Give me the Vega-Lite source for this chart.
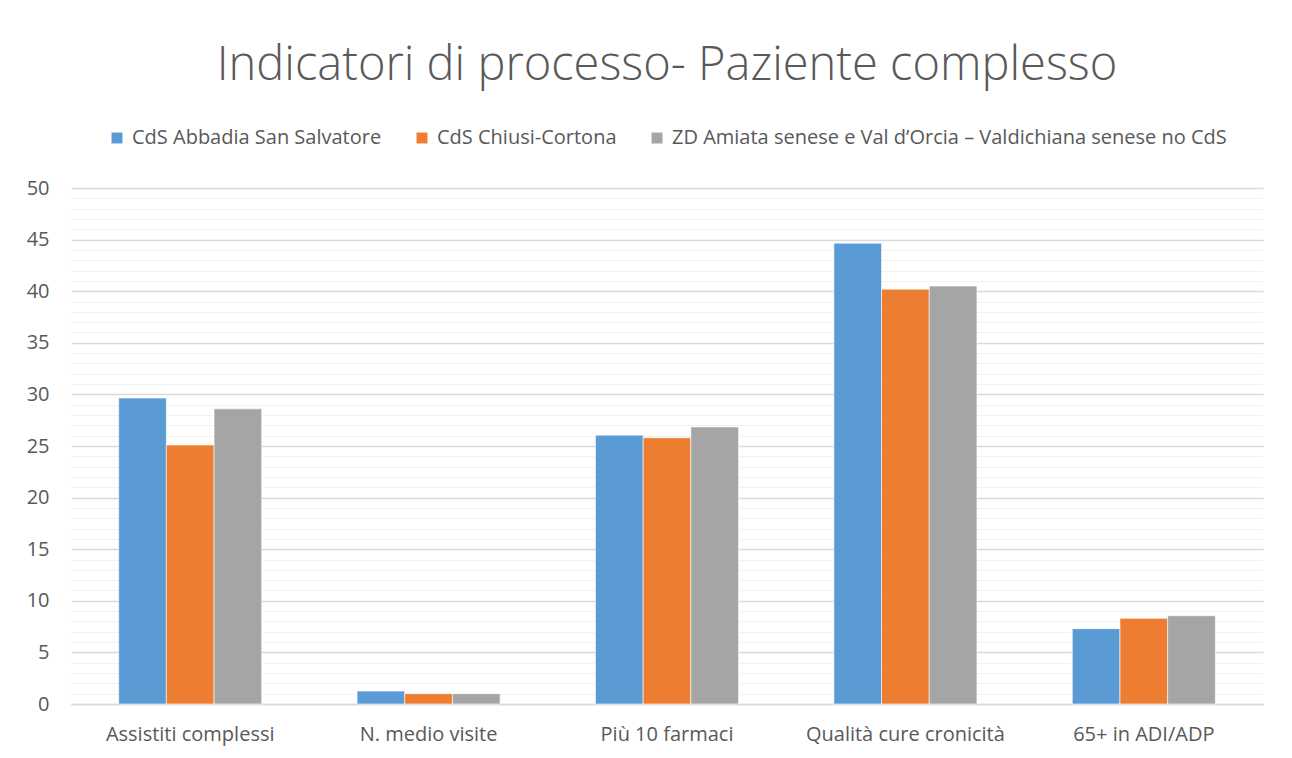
{
  "$schema": "https://vega.github.io/schema/vega-lite/v6.json",
  "width": 1192,
  "height": 516,
  "padding": {"left": 26, "right": 30, "top": 42, "bottom": 10},
  "background": "white",
  "title": {
    "text": "Indicatori di processo- Paziente complesso",
    "font": "Open Sans",
    "fontSize": 47,
    "fontWeight": 300,
    "color": "#595959",
    "anchor": "middle",
    "offset": 38
  },
  "data": {
    "values": [
      {"categoria": "Assistiti complessi", "serie": "CdS Abbadia San Salvatore", "valore": 29.65},
      {"categoria": "Assistiti complessi", "serie": "CdS Chiusi-Cortona", "valore": 25.1},
      {"categoria": "Assistiti complessi", "serie": "ZD Amiata senese e Val d’Orcia – Valdichiana senese no CdS", "valore": 28.6},
      {"categoria": "N. medio visite", "serie": "CdS Abbadia San Salvatore", "valore": 1.25},
      {"categoria": "N. medio visite", "serie": "CdS Chiusi-Cortona", "valore": 1.0},
      {"categoria": "N. medio visite", "serie": "ZD Amiata senese e Val d’Orcia – Valdichiana senese no CdS", "valore": 1.0},
      {"categoria": "Più 10 farmaci", "serie": "CdS Abbadia San Salvatore", "valore": 26.05},
      {"categoria": "Più 10 farmaci", "serie": "CdS Chiusi-Cortona", "valore": 25.8},
      {"categoria": "Più 10 farmaci", "serie": "ZD Amiata senese e Val d’Orcia – Valdichiana senese no CdS", "valore": 26.85},
      {"categoria": "Qualità cure cronicità", "serie": "CdS Abbadia San Salvatore", "valore": 44.65},
      {"categoria": "Qualità cure cronicità", "serie": "CdS Chiusi-Cortona", "valore": 40.2},
      {"categoria": "Qualità cure cronicità", "serie": "ZD Amiata senese e Val d’Orcia – Valdichiana senese no CdS", "valore": 40.5},
      {"categoria": "65+ in ADI/ADP", "serie": "CdS Abbadia San Salvatore", "valore": 7.3},
      {"categoria": "65+ in ADI/ADP", "serie": "CdS Chiusi-Cortona", "valore": 8.3},
      {"categoria": "65+ in ADI/ADP", "serie": "ZD Amiata senese e Val d’Orcia – Valdichiana senese no CdS", "valore": 8.55}
    ]
  },
  "mark": {"type": "bar", "stroke": "white", "strokeWidth": 0.6},
  "encoding": {
    "x": {
      "field": "categoria",
      "type": "nominal",
      "sort": null,
      "title": null,
      "scale": {"paddingInner": 0.4, "paddingOuter": 0.2},
      "axis": {
        "labelAngle": 0,
        "labelFont": "Open Sans",
        "labelFontSize": 20,
        "labelColor": "#595959",
        "labelPadding": 20,
        "labelLimit": 400,
        "ticks": false,
        "domainColor": "#d9d9d9",
        "domainWidth": 1.5,
        "grid": false
      }
    },
    "xOffset": {
      "field": "serie",
      "type": "nominal",
      "sort": null,
      "scale": {"paddingInner": 0, "paddingOuter": 0}
    },
    "y": {
      "field": "valore",
      "type": "quantitative",
      "title": null,
      "scale": {"domain": [0, 50], "nice": false},
      "axis": {
        "values": [0,1,2,3,4,5,6,7,8,9,10,11,12,13,14,15,16,17,18,19,20,21,22,23,24,25,26,27,28,29,30,31,32,33,34,35,36,37,38,39,40,41,42,43,44,45,46,47,48,49,50],
        "labelExpr": "datum.value % 5 === 0 ? datum.label : ''",
        "labelFont": "Open Sans",
        "labelFontSize": 20,
        "labelColor": "#595959",
        "labelPadding": 22,
        "ticks": false,
        "domain": false,
        "grid": true,
        "gridColor": {"condition": {"test": "datum.value % 5 === 0", "value": "#d9d9d9"}, "value": "#f2f2f2"},
        "gridWidth": {"condition": {"test": "datum.value % 5 === 0", "value": 1.5}, "value": 1.2}
      }
    },
    "color": {
      "field": "serie",
      "type": "nominal",
      "sort": null,
      "scale": {
        "domain": ["CdS Abbadia San Salvatore", "CdS Chiusi-Cortona", "ZD Amiata senese e Val d’Orcia – Valdichiana senese no CdS"],
        "range": ["#5B9BD5", "#ED7D31", "#A5A5A5"]
      },
      "legend": {
        "title": null,
        "orient": "top",
        "direction": "horizontal",
        "symbolType": "square",
        "symbolSize": 120,
        "symbolStrokeWidth": 0,
        "labelFont": "Open Sans",
        "labelFontSize": 20,
        "labelColor": "#595959",
        "labelLimit": 800,
        "columnPadding": 30,
        "labelOffset": 5,
        "offset": 40
      }
    }
  },
  "config": {
    "view": {"stroke": null},
    "legend": {"layout": {"top": {"anchor": "middle"}}}
  }
}
